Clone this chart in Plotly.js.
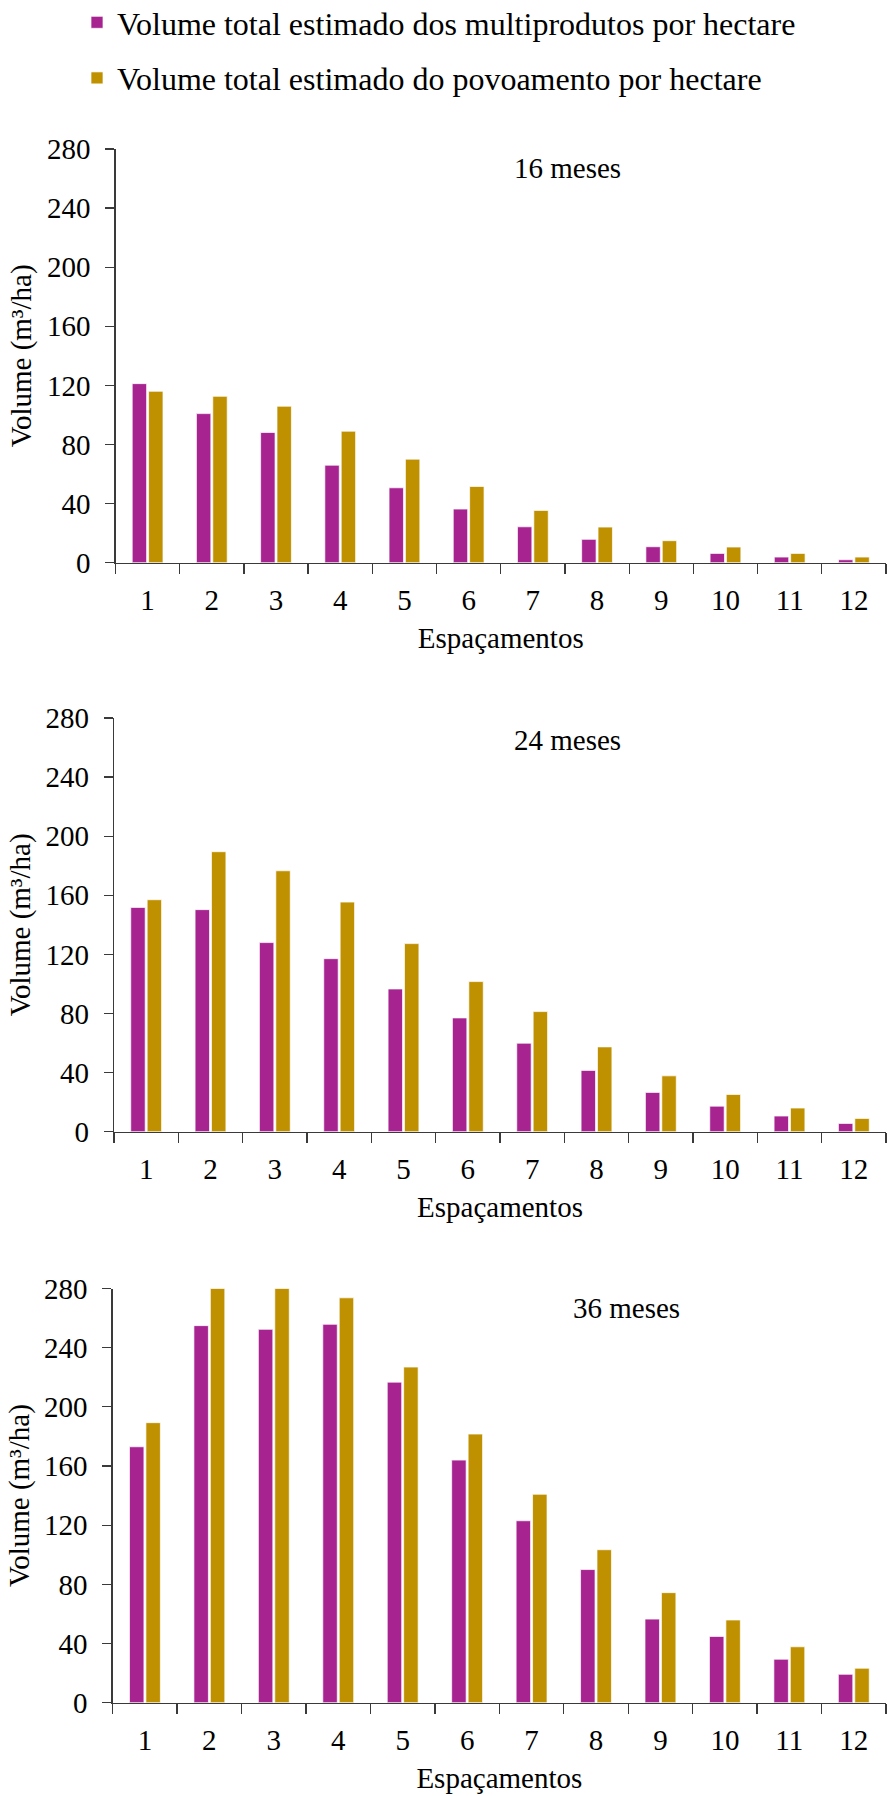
<!DOCTYPE html>
<html>
<head>
<meta charset="utf-8">
<script src="https://cdn.plot.ly/plotly-3.0.1.min.js"></script>
<style>
  html, body { margin: 0; padding: 0; background: #ffffff; }
  #chart { width: 889px; height: 1796px; }
</style>
</head>
<body>
<div id="chart"></div>
<script>
// ---- data ----
const categories = ['1','2','3','4','5','6','7','8','9','10','11','12'];
const seriesNames = [
  'Volume total estimado dos multiprodutos por hectare',
  'Volume total estimado do povoamento por hectare'
];
const panelLabels = ['16 meses', '24 meses', '36 meses'];
const yTickValues = [0, 40, 80, 120, 160, 200, 240, 280];

const multi16 = [121.2, 100.9, 88.1, 66.0, 50.7, 36.3, 24.3, 15.8, 10.8, 6.3, 3.8, 2.0];
const povo16  = [116.0, 112.6, 105.9, 89.0, 70.1, 51.6, 35.4, 24.1, 14.9, 10.6, 6.3, 3.8];
const multi24 = [151.8, 150.3, 128.0, 117.1, 96.6, 77.0, 59.9, 41.5, 26.6, 17.3, 10.6, 5.6];
const povo24  = [157.0, 189.5, 176.6, 155.4, 127.3, 101.6, 81.3, 57.4, 37.8, 25.2, 16.0, 9.0];
const multi36 = [173.0, 254.9, 252.4, 255.8, 216.7, 164.0, 123.0, 90.0, 56.5, 44.8, 29.4, 19.2];
const povo36  = [189.3, 280.0, 280.0, 273.7, 226.9, 181.6, 140.9, 103.4, 74.4, 55.9, 37.8, 23.3];

// ---- styling ----
const W = 889, H = 1796;
const FONT = 'Liberation Serif, Times New Roman, serif';
const MAGENTA = '#A62390';
const GOLD = '#BF9000';
const AXIS = '#3a3a3a';

// pixel layout of the three panels: [left, right, top(280), bottom(0)]
const panelsPx = [
  [115.5, 886, 149, 562.7],
  [114.0, 886, 718, 1131.7],
  [112.7, 886, 1288.5, 1702.7]
];
const annPos = [[0.587, 0.953], [0.588, 0.946], [0.665, 0.952]];

const multiSets = [multi16, multi24, multi36];
const povoSets = [povo16, povo24, povo36];

const traces = [];
const layout = {
  width: W, height: H,
  margin: {l: 0, r: 0, t: 0, b: 0, autoexpand: false},
  paper_bgcolor: '#ffffff',
  plot_bgcolor: '#ffffff',
  font: {family: FONT, size: 29, color: '#000000'},
  barmode: 'group',
  bargap: 0.49,
  bargroupgap: 0.12,
  showlegend: true,
  legend: {
    xref: 'paper', yref: 'paper',
    x: 77 / W, y: 1 + 5 / H,
    xanchor: 'left', yanchor: 'top',
    font: {family: FONT, size: 32, color: '#000000'},
    traceorder: 'grouped',
    tracegroupgap: 11,
    itemwidth: 30,
    bgcolor: 'rgba(0,0,0,0)'
  },
  annotations: []
};

for (let p = 0; p < 3; p++) {
  const sfx = p === 0 ? '' : String(p + 1);
  const [l, r, t, b] = panelsPx[p];
  traces.push({
    type: 'bar', x: categories, y: multiSets[p], name: seriesNames[0],
    legendgroup: 'a', showlegend: p === 0,
    marker: {color: MAGENTA, line: {color: 'rgba(255,255,255,0.7)', width: 1}},
    xaxis: 'x' + sfx, yaxis: 'y' + sfx, hoverinfo: 'skip'
  });
  traces.push({
    type: 'bar', x: categories, y: povoSets[p], name: seriesNames[1],
    legendgroup: 'b', showlegend: p === 0,
    marker: {color: GOLD, line: {color: 'rgba(255,255,255,0.7)', width: 1}},
    xaxis: 'x' + sfx, yaxis: 'y' + sfx, hoverinfo: 'skip'
  });
  layout['xaxis' + sfx] = {
    domain: [l / W, r / W],
    anchor: 'y' + sfx,
    type: 'category',
    categoryorder: 'array', categoryarray: categories,
    range: [-0.5, 11.5],
    tickson: 'boundaries',
    tickangle: 0,
    ticks: 'outside', ticklen: 10, tickwidth: 1.3, tickcolor: AXIS,
    showline: true, linecolor: AXIS, linewidth: 1.3,
    showgrid: false, zeroline: false,
    ticklabelstandoff: 11,
    automargin: false,
    tickfont: {family: FONT, size: 29, color: '#000000'},
    title: {text: 'Espaçamentos', font: {family: FONT, size: 29, color: '#000000'}, standoff: 13},
    fixedrange: true
  };
  layout['yaxis' + sfx] = {
    domain: [1 - b / H, 1 - t / H],
    anchor: 'x' + sfx,
    range: [0, 280],
    tickmode: 'array', tickvals: yTickValues, ticktext: yTickValues.map(String),
    ticks: 'outside', ticklen: 9, tickwidth: 1.3, tickcolor: AXIS,
    showline: true, linecolor: AXIS, linewidth: 1.3,
    showgrid: false, zeroline: false,
    ticklabelstandoff: 9,
    automargin: false,
    tickfont: {family: FONT, size: 29, color: '#000000'},
    title: {text: 'Volume (m³/ha)', font: {family: FONT, size: 29, color: '#000000'}, standoff: 6},
    fixedrange: true
  };
  layout.annotations.push({
    xref: 'x' + sfx + ' domain', yref: 'y' + sfx + ' domain',
    x: annPos[p][0], y: annPos[p][1],
    xanchor: 'center', yanchor: 'middle',
    text: panelLabels[p], showarrow: false,
    font: {family: FONT, size: 29, color: '#000000'}
  });
}

Plotly.newPlot('chart', traces, layout, {displayModeBar: false, staticPlot: true});
</script>
</body>
</html>
